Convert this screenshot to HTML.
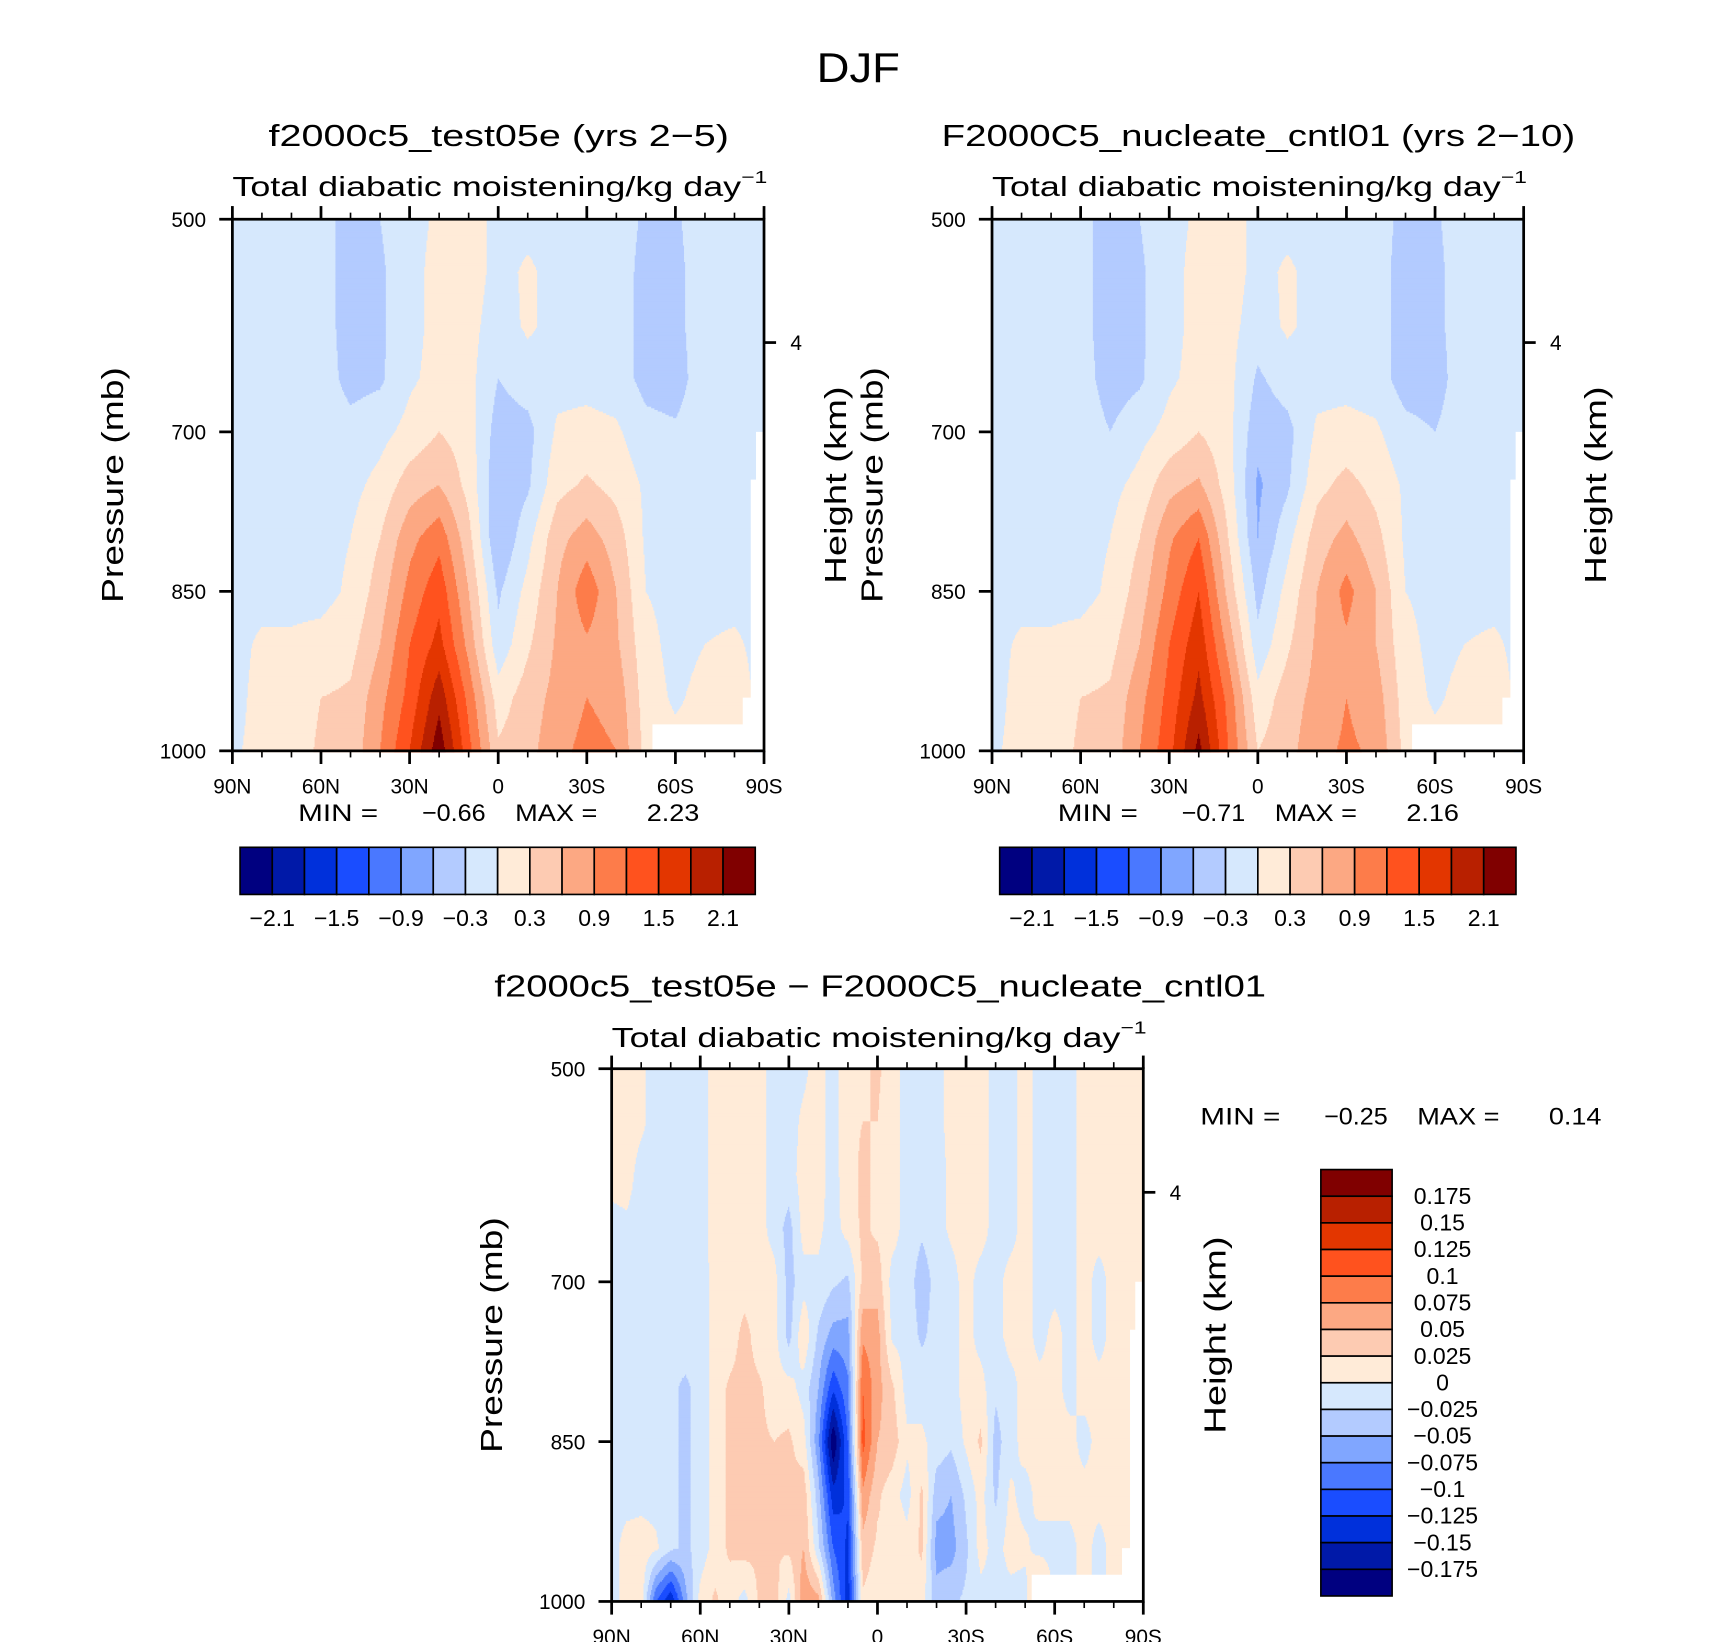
<!DOCTYPE html>
<html><head><meta charset="utf-8"><style>
html,body{margin:0;padding:0;background:#fff;}
svg{display:block;font-family:"Liberation Sans",sans-serif;}
</style></head><body>
<svg id="fig" width="1710" height="1642" viewBox="0 0 1560 1498" preserveAspectRatio="none" xmlns="http://www.w3.org/2000/svg">
<rect width="1560" height="1498" fill="#fff"/>
<text x="783" y="75" font-size="38" text-anchor="middle" textLength="76" lengthAdjust="spacingAndGlyphs">DJF</text>

<text x="455" y="133" font-size="28" text-anchor="middle" textLength="420" lengthAdjust="spacingAndGlyphs">f2000c5_test05e (yrs 2−5)</text>
<text x="212" y="179" font-size="25" textLength="488" lengthAdjust="spacingAndGlyphs">Total diabatic moistening/kg day<tspan font-size="16" dy="-12">−1</tspan></text>
<text x="1148" y="133" font-size="28" text-anchor="middle" textLength="578" lengthAdjust="spacingAndGlyphs">F2000C5_nucleate_cntl01 (yrs 2−10)</text>
<text x="905" y="179" font-size="25" textLength="488" lengthAdjust="spacingAndGlyphs">Total diabatic moistening/kg day<tspan font-size="16" dy="-12">−1</tspan></text>
<text x="803" y="909" font-size="28" text-anchor="middle" textLength="704" lengthAdjust="spacingAndGlyphs">f2000c5_test05e − F2000C5_nucleate_cntl01</text>
<text x="558" y="955" font-size="25" textLength="488" lengthAdjust="spacingAndGlyphs">Total diabatic moistening/kg day<tspan font-size="16" dy="-12">−1</tspan></text>

<g id="p1"></g>
<g id="p2"></g>
<g id="p3"></g>
</svg>
<script>
const levels=[500,550,600,650,700,750,800,850,900,950,1000];
const lats10=[90,80,70,60,50,40,30,20,10,0,-10,-20,-30,-40,-50,-60,-70,-80,-90];
const lats5=[90,85,80,75,70,65,60,55,50,45,40,35,30,25,20,15,10,5,0,-5,-10,-15,-20,-25,-30,-35,-40,-45,-50,-55,-60,-65,-70,-75,-80,-85,-90];
const bounds12=[-2.1,-1.8,-1.5,-1.2,-0.9,-0.6,-0.3,0,0.3,0.6,0.9,1.2,1.5,1.8,2.1];
const bounds3=[-0.175,-0.15,-0.125,-0.1,-0.075,-0.05,-0.025,0,0.025,0.05,0.075,0.1,0.125,0.15,0.175];
const cbLabels12=["−2.1","−1.5","−0.9","−0.3","0.3","0.9","1.5","2.1"];
const cbLabels3=["0.175","0.15","0.125","0.1","0.075","0.05","0.025","0","−0.025","−0.05","−0.075","−0.1","−0.125","−0.15","−0.175"];
const xTickLabels=["90N","60N","30N","0","30S","60S","90S"];
const yTickLabels=[500,700,850,1000];
const colors=["#000080","#0019a8","#0030db","#1a4dff","#4a78ff","#80a6ff","#b3cbff","#d6e8fd","#ffebd8","#fdcbb2","#fca883","#fd7c4a","#ff521e","#e33600","#b82000","#800000"];
const stats1=["−0.66","2.23"], stats2=["−0.71","2.16"], stats3=["−0.25","0.14"];

const vals1=[
[-.1,-.1,-.1,-.15,-.45,-.3,-.1,.05,.15,-.1,-.1,-.1,-.1,-.15,-.35,-.35,-.1,-.1,-.1],
[-.1,-.1,-.1,-.15,-.45,-.35,-.1,.1,.15,-.1,.05,-.1,-.1,-.15,-.4,-.4,-.1,-.1,-.1],
[-.1,-.1,-.1,-.15,-.45,-.35,-.1,.1,.1,-.15,.05,-.1,-.1,-.15,-.4,-.4,-.1,-.1,-.1],
[-.1,-.1,-.1,-.15,-.4,-.35,-.05,.1,.1,-.3,-.15,-.1,-.1,-.15,-.4,-.45,-.1,-.1,-.1],
[-.1,-.1,-.1,-.1,-.2,-.1,.1,.3,.15,-.45,-.4,.05,.1,.05,-.2,-.25,-.1,-.1,-.1],
[-.1,-.1,-.1,-.1,-.1,.1,.45,.6,.2,-.55,-.35,.2,.35,.2,-.05,-.1,-.1,-.1,-.1],
[-.1,-.1,-.1,-.1,0,.3,.8,1.1,.4,-.6,-.1,.5,.75,.45,-.05,-.1,-.1,-.1,-.1],
[-.1,-.1,-.1,-.1,.05,.45,1.0,1.4,.6,-.35,.1,.6,1.1,.6,0,-.1,-.1,-.1,-.1],
[-.1,.05,.05,.1,.2,.6,1.2,1.6,.8,-.2,.25,.65,.85,.65,.1,-.1,0,.05,-.1],
[-.1,.1,.15,.3,.35,.8,1.3,2.0,1.1,.15,.45,.7,.9,.8,.15,-.05,.1,.15,-.1],
[-.05,.1,.15,.35,.4,.9,1.5,2.3,1.3,.35,.5,.8,1.0,.9,.2,.1,.15,.2,-.1]];
const vals2=[
[-.1,-.1,-.1,-.2,-.45,-.3,-.1,.05,.15,-.1,-.1,-.1,-.1,-.15,-.4,-.35,-.1,-.1,-.1],
[-.1,-.1,-.1,-.2,-.45,-.35,-.1,.1,.15,-.1,.05,-.1,-.1,-.15,-.45,-.4,-.1,-.1,-.1],
[-.1,-.1,-.1,-.2,-.45,-.35,-.1,.1,.1,-.15,.05,-.1,-.1,-.15,-.45,-.4,-.1,-.1,-.1],
[-.1,-.1,-.1,-.15,-.45,-.35,-.05,.1,.1,-.35,-.15,-.1,-.1,-.15,-.45,-.45,-.1,-.1,-.1],
[-.1,-.1,-.1,-.1,-.3,-.1,.1,.3,.1,-.5,-.4,.05,.1,.05,-.2,-.3,-.1,-.1,-.1],
[-.1,-.1,-.1,-.1,-.1,.1,.5,.65,.15,-.65,-.35,.2,.4,.2,-.05,-.1,-.1,-.1,-.1],
[-.1,-.1,-.1,-.1,0,.3,.85,1.2,.3,-.6,-.1,.45,.7,.4,-.05,-.1,-.1,-.1,-.1],
[-.1,-.1,-.1,-.1,.05,.45,1.0,1.5,.5,-.4,.1,.6,1.0,.6,0,-.1,-.1,-.1,-.1],
[-.1,.05,.05,.1,.2,.6,1.2,1.7,.8,-.2,.25,.65,.85,.6,.1,-.1,0,.05,-.1],
[-.1,.1,.15,.3,.35,.8,1.3,1.9,1.1,.1,.45,.7,.9,.75,.15,-.05,.1,.15,-.1],
[-.05,.1,.15,.35,.4,.9,1.4,2.2,1.2,.3,.5,.8,.95,.85,.2,.1,.15,.2,-.1]];
const vals3=[
[10,10,5,-10,-10,-10,-10,10,10,10,10,-10,-10,-5,10,-10,20,20,30,10,-10,-10,-10,10,10,10,-10,-10,10,-10,-10,-10,10,10,10,10,10],
[10,10,5,-10,-10,-10,-10,10,10,10,10,-10,-10,5,10,-10,20,25,25,10,-10,-10,-10,10,10,10,-10,-10,10,-10,-10,-10,10,10,10,10,10],
[10,10,-10,-10,-10,-10,-10,10,10,10,10,-10,-10,10,10,-10,15,30,20,10,-10,-10,-10,5,10,10,-10,-10,10,-10,-10,-10,10,10,10,10,10],
[-10,-5,-10,-10,-10,-10,-10,10,10,10,10,-10,-35,10,5,-10,10,30,20,10,-10,-20,-10,5,10,10,-10,-10,10,-10,-10,-10,10,10,10,10,10],
[-10,-10,-10,-10,-10,-10,-15,10,10,10,10,10,-35,-10,-5,-20,-30,30,40,-10,-10,-40,-15,-10,10,-10,-10,10,10,-10,-10,-10,10,-10,10,20,10],
[-10,-10,-10,-10,-20,-10,-15,10,10,35,10,10,-35,20,-30,-60,-60,70,60,-5,-10,-30,-15,-10,10,-10,-10,10,10,-10,10,-10,10,-10,10,20,10],
[-10,-10,-10,-10,-20,-30,-15,10,30,35,30,10,10,-10,-50,-120,-80,100,60,30,-10,-10,-10,-10,10,10,-20,-10,10,10,10,-10,10,10,10,10,10],
[-10,-10,-10,-10,-20,-30,-15,10,30,35,30,25,30,10,-70,-200,-100,110,50,40,5,5,-10,-20,5,30,-35,-10,10,10,10,10,-10,10,10,10,10],
[-10,-10,-10,-10,-20,-30,-15,10,30,35,30,25,30,40,-40,-140,-120,70,30,10,-10,30,-40,-50,-20,10,-30,5,-10,10,10,10,10,10,10,10,10],
[-10,10,15,5,-20,-30,-15,10,30,35,30,25,30,50,-20,-100,-130,40,20,20,10,30,-60,-60,-30,10,-10,10,5,-10,-10,-10,10,-10,10,10,10],
[-10,10,15,-100,-150,-60,10,30,10,-10,30,40,-10,70,60,-60,-140,20,10,10,20,10,-40,-30,-20,-10,-10,-10,-10,60,-10,-10,10,-10,10,10,10]];

const svgNS="http://www.w3.org/2000/svg";
function mk(tag,attrs,parent){const e=document.createElementNS(svgNS,tag);for(const k in attrs)e.setAttribute(k,attrs[k]);parent.appendChild(e);return e;}
function bin(v,b){let i=0;while(i<b.length&&v>b[i])i++;return i;}
function latToX(box,lat){return box.x0+(90-lat)/180*(box.x1-box.x0);}
function pToY(box,p){return box.y0+(p-500)/500*(box.y1-box.y0);}

function drawField(g,box,lats,vals,bounds,scale){
  const w=box.x1-box.x0,h=box.y1-box.y0,nr=levels.length,nc=lats.length,dl=180/(nc-1);
  const rh=1.5;
  for(let y=box.y0;y<box.y1-0.01;y+=rh){
    const p=500+(y+rh/2-box.y0)/h*500;
    let r=(p-500)/50;let r0=Math.min(Math.floor(r),nr-2);let fr=r-r0;
    let runStart=box.x0,runCol=-1;
    const flush=(xe)=>{if(runCol<0)return;
      const rc=mk('rect',{x:runStart.toFixed(2),y:y.toFixed(2),width:(xe-runStart+0.4).toFixed(2),height:(rh+0.4).toFixed(2),fill:colors[runCol]},g);
      
      };
    for(let x=box.x0;x<box.x1;x+=1){
      const lat=90-(x+0.5-box.x0)/w*180;
      let c=(90-lat)/dl;let c0=Math.min(Math.floor(c),nc-2);let fc=c-c0;
      const v=((vals[r0][c0]*(1-fc)+vals[r0][c0+1]*fc)*(1-fr)+(vals[r0+1][c0]*(1-fc)+vals[r0+1][c0+1]*fc)*fr)*scale;
      const ci=bin(v,bounds);
      if(ci!==runCol){flush(x);runStart=x;runCol=ci;}
    }
    flush(box.x1);
  }
}
function drawTerrain(g,box){
  const fr=[[1,700],[0.985,700],[0.985,745],[0.975,745],[0.975,950],[0.96,950],[0.96,975],[0.79,975],[0.79,1000],[1,1000]];
  const w=box.x1-box.x0;
  const pts=fr.map(q=>(box.x0+q[0]*w).toFixed(1)+','+pToY(box,q[1]).toFixed(1)).join(' ');
  const t=mk('polygon',{points:pts,fill:'#fff'},g);
  
  
}
function drawAxes(g,box){
  const fr=mk('rect',{x:box.x0,y:box.y0,width:box.x1-box.x0,height:box.y1-box.y0,fill:'none',stroke:'#000','stroke-width':2.5},g);
  
  
  for(let lat=90;lat>=-90;lat-=10){
    const x=latToX(box,lat),maj=(lat%30===0),L=maj?12:6;
    mk('line',{x1:x,y1:box.y1,x2:x,y2:box.y1+L,stroke:'#000','stroke-width':maj?2.5:1.5},g);
    mk('line',{x1:x,y1:box.y0,x2:x,y2:box.y0-L,stroke:'#000','stroke-width':maj?2.5:1.5},g);
  }
  xTickLabels.forEach((s,i)=>{const t=mk('text',{x:latToX(box,90-30*i),y:box.y1+39,'font-size':19,'text-anchor':'middle'},g);t.textContent=s;
    
    });
  yTickLabels.forEach(p=>{const y=pToY(box,p);mk('line',{x1:box.x0-12,y1:y,x2:box.x0,y2:y,stroke:'#000','stroke-width':2.5},g);
    const t=mk('text',{x:box.x0-24,y:y+7,'font-size':19,'text-anchor':'end'},g);t.textContent=p;
    
    });
  const y4=pToY(box,616);
  mk('line',{x1:box.x1,y1:y4,x2:box.x1+11,y2:y4,stroke:'#000','stroke-width':2.5},g);
  const t4=mk('text',{x:box.x1+24,y:y4+7,'font-size':19},g);t4.textContent='4';
  
  
  const cy=(box.y0+box.y1)/2;
  const yl=mk('text',{x:box.x0-100,y:cy,'font-size':28,'text-anchor':'middle',textLength:215,lengthAdjust:'spacingAndGlyphs',transform:`rotate(-90 ${box.x0-100} ${cy})`},g);yl.textContent='Pressure (mb)';
  
  
  const hl=mk('text',{x:box.x1+75,y:cy,'font-size':28,'text-anchor':'middle',textLength:180,lengthAdjust:'spacingAndGlyphs',transform:`rotate(-90 ${box.x1+75} ${cy})`},g);hl.textContent='Height (km)';
  
  
}
function stats(g,x,y,st){
  const parts=[["MIN =",x,73],[st[0],x+113,58],["MAX =",x+198,75],[st[1],x+318,48]];
  parts.forEach(([s,xx,tl])=>{const t=mk('text',{x:xx,y:y,'font-size':22,textLength:tl,lengthAdjust:'spacingAndGlyphs'},g);t.textContent=s;
    
    });
}
function hbar(g,x0,y0,w,h){
  const bw=w/16;
  for(let i=0;i<16;i++){const r=mk('rect',{x:x0+i*bw,y:y0,width:bw,height:h,fill:colors[i],stroke:'#000','stroke-width':1.5},g);
    
    }
  cbLabels12.forEach((s,i)=>{const t=mk('text',{x:x0+(1+2*i)*bw,y:y0+h+29,'font-size':21,'text-anchor':'middle'},g);t.textContent=s;
    
    });
}
function vbar(g,x0,y0,w,h){
  const bh=h/16;
  for(let i=0;i<16;i++){const r=mk('rect',{x:x0,y:y0+i*bh,width:w,height:bh,fill:colors[15-i],stroke:'#000','stroke-width':1.5},g);
    
    }
  cbLabels3.forEach((s,i)=>{const t=mk('text',{x:x0+w+46,y:y0+(i+1)*bh+7,'font-size':21,'text-anchor':'middle'},g);t.textContent=s;
    
    });
}
const b1={x0:212,x1:697,y0:200,y1:685},b2={x0:905,x1:1390,y0:200,y1:685},b3={x0:558,x1:1043,y0:975,y1:1461};
const g1=document.getElementById('p1'),g2=document.getElementById('p2'),g3=document.getElementById('p3');
drawField(g1,b1,lats10,vals1,bounds12,1);drawTerrain(g1,b1);drawAxes(g1,b1);stats(g1,272,749,stats1);hbar(g1,219,773,470,43);
drawField(g2,b2,lats10,vals2,bounds12,1);drawTerrain(g2,b2);drawAxes(g2,b2);stats(g2,965,749,stats2);hbar(g2,912,773,471,43);
drawField(g3,b3,lats5,vals3,bounds3,0.001);drawTerrain(g3,b3);drawAxes(g3,b3);stats(g3,1095,1026,stats3);vbar(g3,1205,1067,65,389);
</script>
</body></html>
